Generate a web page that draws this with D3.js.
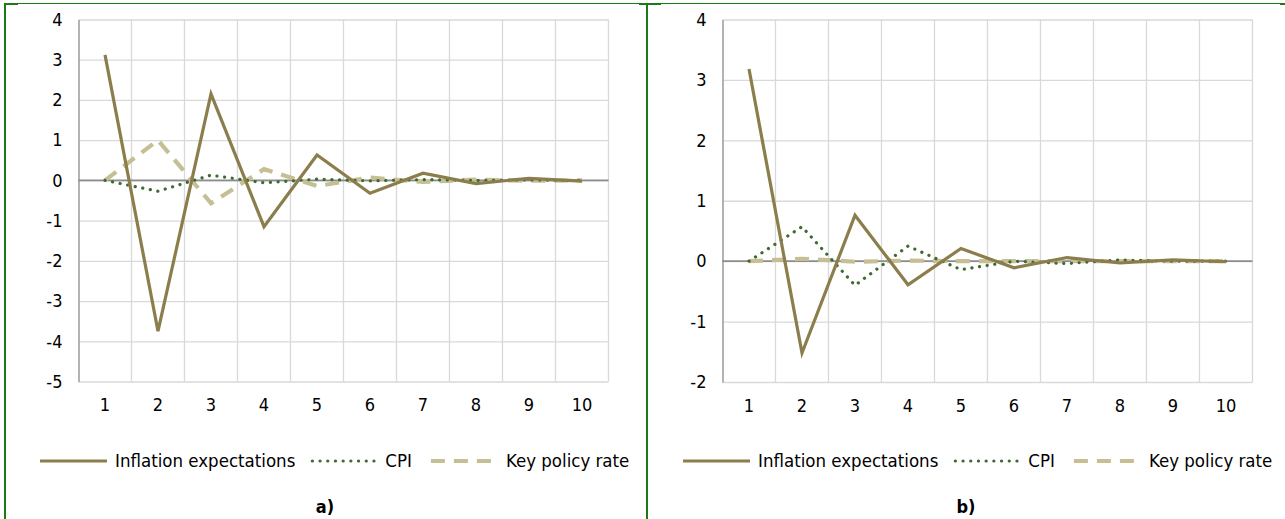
<!DOCTYPE html>
<html>
<head>
<meta charset="utf-8">
<script src="https://cdn.jsdelivr.net/npm/d3@7/dist/d3.min.js"></script>
<style>
  body { margin: 0; background: #fff; }
  svg text { font-family: "DejaVu Sans Condensed", "DejaVu Sans", sans-serif; fill: #000; }
</style>
</head>
<body>
<div id="chart"></div>
<script>
// Data
var periods       = [1, 2, 3, 4, 5, 6, 7, 8, 9, 10];
var series_names  = ["Inflation expectations", "CPI", "Key policy rate"];
var y_ticks_a     = [-5, -4, -3, -2, -1, 0, 1, 2, 3, 4];
var y_ticks_b     = [-2, -1, 0, 1, 2, 3, 4];

// panel a)
var infl_a = [3.12, -3.75, 2.15, -1.15, 0.63, -0.32, 0.18, -0.08, 0.05, -0.02];
var cpi_a  = [0, -0.27, 0.13, -0.06, 0.03, -0.01, 0.02, 0, 0.01, 0];
var rate_a = [0, 1.0, -0.57, 0.28, -0.14, 0.07, -0.04, 0.02, -0.01, 0];

// panel b)
var infl_b = [3.18, -1.52, 0.76, -0.39, 0.21, -0.11, 0.06, -0.03, 0.02, -0.01];
var cpi_b  = [0, 0.57, -0.40, 0.25, -0.14, 0, -0.04, 0.02, 0, 0];
var rate_b = [0, 0.04, -0.01, 0.01, 0, 0, 0, 0, 0, 0];

var chart_width   = 1285;
var chart_height  = 519;
var font_size     = "18px";
var legend_size   = "18.5px";

var styles = [
    { color: "#8b7e4c", width: 3.2, dash: null, cap: "butt" },
    { color: "#3f6a31", width: 3.2, dash: "0.1 7.6", cap: "round" },
    { color: "#c6bf94", width: 4.2, dash: "14 9", cap: "butt" }
];

var svg = d3.select("#chart")
    .append("svg")
    .attr("width", chart_width)
    .attr("height", chart_height);

// green frame
var green = "#1a7a14";
svg.append("line").attr("x1", 18).attr("x2", 1281).attr("y1", 3.5).attr("y2", 3.5)
    .attr("stroke", green).attr("stroke-width", 1);
svg.append("line").attr("x1", 5).attr("x2", 18).attr("y1", 4).attr("y2", 4)
    .attr("stroke", green).attr("stroke-width", 2);
svg.append("line").attr("x1", 639).attr("x2", 661).attr("y1", 4).attr("y2", 4)
    .attr("stroke", green).attr("stroke-width", 2);
svg.append("line").attr("x1", 1280).attr("x2", 1285).attr("y1", 4).attr("y2", 4)
    .attr("stroke", green).attr("stroke-width", 2);
svg.append("line").attr("x1", 5).attr("x2", 5).attr("y1", 3).attr("y2", chart_height)
    .attr("stroke", green).attr("stroke-width", 2);
svg.append("line").attr("x1", 647).attr("x2", 647).attr("y1", 3).attr("y2", chart_height)
    .attr("stroke", green).attr("stroke-width", 2);

function drawPanel(cfg) {
    var g = svg.append("g");

    var x_scale = d3.scaleBand()
        .domain(periods)
        .range([cfg.left, cfg.right])
        .padding(0);
    var y_scale = d3.scaleLinear()
        .domain([d3.min(cfg.ticks), d3.max(cfg.ticks)])
        .range([cfg.bottom, cfg.top]);

    // gridlines
    var y_grid = d3.axisLeft(y_scale)
        .tickValues(cfg.ticks)
        .tickSize(-(cfg.right - cfg.left))
        .tickFormat("");
    var yg = g.append("g")
        .attr("transform", "translate(" + cfg.left + ",0)")
        .call(y_grid);
    yg.select(".domain").remove();
    yg.selectAll("line").attr("stroke", "#d9d9d9").attr("stroke-width", 1.3);

    var x_grid = d3.axisBottom(x_scale)
        .tickSize(-(cfg.bottom - cfg.top))
        .tickFormat("");
    var xg = g.append("g")
        .attr("transform", "translate(0," + cfg.bottom + ")")
        .call(x_grid);
    xg.select(".domain").remove();
    xg.selectAll(".tick")
        .attr("transform", function(d) {
            return "translate(" + (x_scale(d) + x_scale.bandwidth()) + ",0)";
        });
    xg.selectAll("line").attr("stroke", "#d9d9d9").attr("stroke-width", 1.3);

    // y axis labels
    var y_axis = d3.axisLeft(y_scale)
        .tickValues(cfg.ticks)
        .tickSize(0)
        .tickPadding(16)
        .tickFormat(function(d) { return String(d); });
    var ya = g.append("g")
        .attr("transform", "translate(" + cfg.left + ",0)")
        .call(y_axis);
    ya.select(".domain").attr("stroke", "#a0a0a0").attr("stroke-width", 1.6);
    ya.selectAll("text")
        .style("font-size", font_size)
        .attr("fill", "#000");

    // zero line
    g.append("line")
        .attr("x1", cfg.left).attr("x2", cfg.right)
        .attr("y1", y_scale(0)).attr("y2", y_scale(0))
        .attr("stroke", "#8c8c8c").attr("stroke-width", 1.6);

    // x axis labels
    var x_axis = d3.axisBottom(x_scale)
        .tickSize(0)
        .tickPadding(17);
    var xa = g.append("g")
        .attr("transform", "translate(0," + cfg.bottom + ")")
        .call(x_axis);
    xa.select(".domain").remove();
    xa.selectAll("text")
        .style("font-size", font_size)
        .attr("fill", "#000");

    // lines
    var line = d3.line()
        .x(function(d, i) { return x_scale(periods[i]) + x_scale.bandwidth() / 2; })
        .y(function(d) { return y_scale(d); });

    [2, 1, 0].forEach(function(k) {
        var s = styles[k];
        g.append("path")
            .datum(cfg.series[k])
            .attr("fill", "none")
            .attr("stroke", s.color)
            .attr("stroke-width", s.width)
            .attr("stroke-dasharray", s.dash)
            .attr("stroke-linecap", s.cap)
            .attr("stroke-linejoin", "miter")
            .attr("d", line);
    });

    // legend
    var lx = cfg.legend_x;
    var ly = 461;
    series_names.forEach(function(name, k) {
        var s = styles[k];
        g.append("line")
            .attr("x1", lx).attr("x2", lx + 67)
            .attr("y1", ly).attr("y2", ly)
            .attr("stroke", s.color)
            .attr("stroke-width", s.width)
            .attr("stroke-dasharray", s.dash)
            .attr("stroke-linecap", s.cap);
        var t = g.append("text")
            .attr("x", lx + (k === 1 ? 73 : 75))
            .attr("y", ly)
            .attr("dy", "0.35em")
            .style("font-size", legend_size)
            .text(name);
        lx = lx + 75 + t.node().getComputedTextLength() + 17;
    });

    // caption
    g.append("text")
        .attr("x", cfg.caption_x)
        .attr("y", 507)
        .attr("dy", "0.35em")
        .attr("text-anchor", "middle")
        .style("font-size", font_size)
        .style("font-weight", "bold")
        .text(cfg.caption);
}

drawPanel({
    left: 78.5, right: 608.5, top: 19.5, bottom: 381.5,
    ticks: y_ticks_a,
    series: [infl_a, cpi_a, rate_a],
    legend_x: 40,
    caption_x: 325,
    caption: "a)"
});

drawPanel({
    left: 722.5, right: 1252.5, top: 19.5, bottom: 382,
    ticks: y_ticks_b,
    series: [infl_b, cpi_b, rate_b],
    legend_x: 683,
    caption_x: 966,
    caption: "b)"
});
</script>
</body>
</html>
